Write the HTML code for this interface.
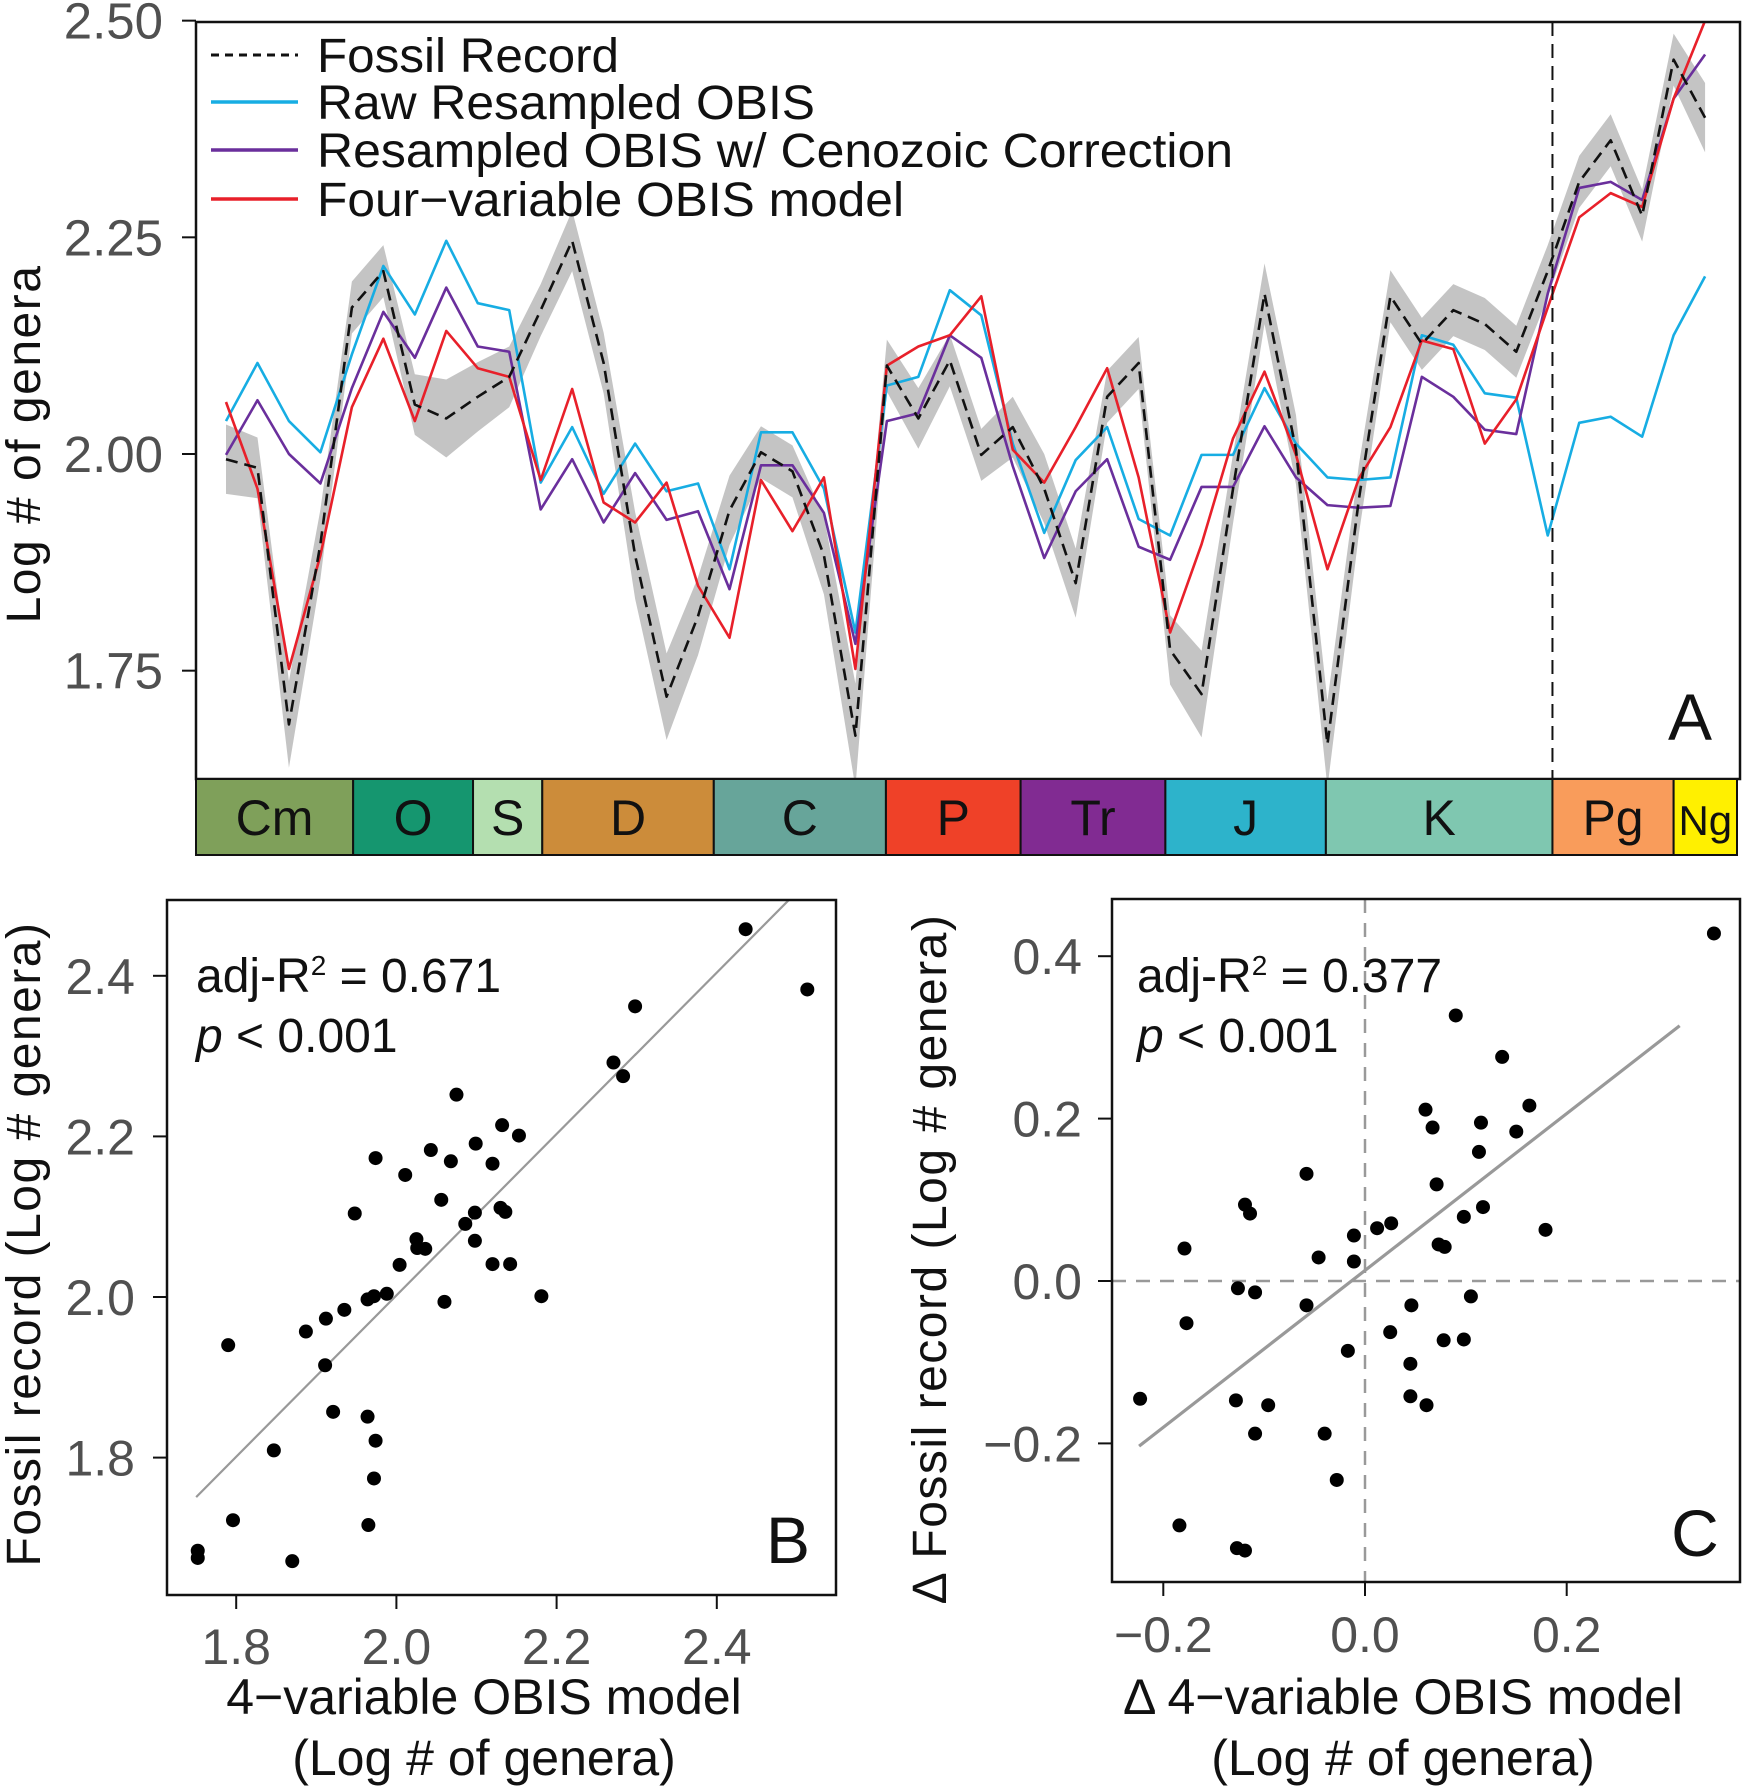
<!DOCTYPE html>
<html><head><meta charset="utf-8"><style>
html,body{margin:0;padding:0;background:#fff}
svg{display:block;font-family:"Liberation Sans",Arial,sans-serif}
</style></head><body>
<svg id="fig" width="1743" height="1786" viewBox="0 0 1743 1786"></svg>
<script>
// ---------- Panel A data ----------
const stageIndex = [0,1,2,3,4,5,6,7,8,9,10,11,12,13,14,15,16,17,18,19,20,21,22,23,24,25,26,27,28,29,30,31,32,33,34,35,36,37,38,39,40,41,42,43,44,45,46,47];
const fossil = [1.994,1.984,1.688,1.896,2.169,2.211,2.057,2.041,2.066,2.089,2.166,2.246,2.105,1.883,1.720,1.813,1.935,2.002,1.980,1.883,1.675,2.102,2.041,2.108,1.999,2.031,1.960,1.851,2.066,2.105,1.774,1.723,1.960,2.185,2.005,1.665,1.948,2.182,2.127,2.166,2.150,2.118,2.211,2.314,2.362,2.275,2.455,2.388];
const fossilErr = [0.04,0.035,0.05,0.04,0.03,0.03,0.035,0.045,0.04,0.035,0.03,0.035,0.035,0.05,0.05,0.045,0.04,0.03,0.03,0.045,0.06,0.03,0.035,0.03,0.03,0.035,0.04,0.04,0.03,0.03,0.04,0.05,0.04,0.035,0.04,0.05,0.04,0.03,0.03,0.03,0.03,0.03,0.03,0.03,0.03,0.03,0.03,0.04];
const rawObis = [2.038,2.105,2.038,2.002,2.115,2.217,2.161,2.246,2.174,2.166,1.967,2.031,1.954,2.012,1.957,1.966,1.867,2.025,2.025,1.960,1.794,2.079,2.089,2.189,2.160,2.012,1.909,1.993,2.031,1.925,1.906,1.999,1.999,2.076,2.012,1.973,1.970,1.973,2.137,2.126,2.070,2.065,1.906,2.036,2.043,2.020,2.137,2.205];
const cenoObis = [1.999,2.062,2.000,1.966,2.076,2.164,2.111,2.192,2.124,2.118,1.936,1.994,1.921,1.978,1.924,1.934,1.844,1.987,1.987,1.932,1.781,2.038,2.047,2.137,2.111,1.986,1.880,1.957,1.994,1.893,1.878,1.962,1.962,2.032,1.973,1.941,1.938,1.940,2.089,2.066,2.028,2.023,2.185,2.307,2.314,2.293,2.410,2.461];
const fourVar = [2.060,1.960,1.752,1.883,2.054,2.133,2.038,2.142,2.099,2.089,1.970,2.075,1.944,1.921,1.967,1.848,1.788,1.970,1.911,1.973,1.752,2.102,2.124,2.137,2.182,2.005,1.967,2.031,2.099,1.973,1.794,1.896,2.018,2.095,1.999,1.867,1.972,2.031,2.131,2.121,2.012,2.063,2.169,2.273,2.301,2.285,2.410,2.500];
const yTicksA = [1.75,2.00,2.25,2.50];
const yTickLabelsA = ["1.75","2.00","2.25","2.50"];
const periods = ["Cm","O","S","D","C","P","Tr","J","K","Pg","Ng"];
const periodEdges = [-0.9,4.04,7.85,10.05,15.5,20.97,25.25,29.85,34.95,42.15,46.0,47.5];
const periodColors = ["#7fa05a","#15966f","#b4dfb0","#cc8c3a","#67a59a","#ef4128","#812b92","#2db3cb","#7fc7b0","#f99c5b","#fff000"];
const cenozoicIndex = 42.15;
// ---------- Panel B data ----------
const bModel = [2.436,2.513,2.298,2.271,2.283,2.075,1.974,2.043,2.068,2.011,2.132,2.153,2.099,2.120,2.056,1.948,2.130,2.136,2.098,2.086,2.098,2.025,2.026,2.036,2.004,2.120,2.142,2.181,1.988,1.972,1.964,2.060,1.935,1.912,1.887,1.790,1.911,1.921,1.964,1.974,1.847,1.972,1.965,1.796,1.752,1.752,1.870];
const bFossil = [2.458,2.383,2.362,2.292,2.275,2.252,2.173,2.183,2.169,2.152,2.214,2.201,2.191,2.166,2.121,2.104,2.111,2.106,2.105,2.091,2.070,2.072,2.061,2.060,2.040,2.041,2.041,2.001,2.004,2.001,1.997,1.994,1.984,1.973,1.957,1.940,1.915,1.857,1.851,1.821,1.809,1.774,1.716,1.722,1.684,1.675,1.671];
const bFit = [1.005,-0.008];
const bXTicks = [1.8,2.0,2.2,2.4];
const bXTickLabels = ["1.8","2.0","2.2","2.4"];
const bYTicks = [1.8,2.0,2.2,2.4];
const bYTickLabels = ["1.8","2.0","2.2","2.4"];
// ---------- Panel C data ----------
const cModel = [0.346,0.090,0.136,0.163,0.060,0.067,0.115,0.150,0.113,-0.058,0.071,-0.119,0.117,-0.114,0.098,0.179,0.026,0.012,-0.011,-0.179,0.073,0.079,-0.046,-0.011,-0.126,-0.109,0.105,-0.058,0.046,-0.177,0.025,0.078,0.098,-0.017,0.045,-0.223,0.045,0.061,-0.128,-0.096,-0.109,-0.040,-0.028,-0.184,-0.127,-0.119];
const cFossil = [0.428,0.327,0.276,0.216,0.211,0.189,0.195,0.184,0.159,0.132,0.119,0.094,0.091,0.083,0.079,0.063,0.071,0.065,0.056,0.040,0.045,0.042,0.029,0.024,-0.009,-0.014,-0.019,-0.030,-0.030,-0.052,-0.063,-0.073,-0.072,-0.086,-0.102,-0.145,-0.142,-0.153,-0.147,-0.153,-0.188,-0.188,-0.245,-0.301,-0.329,-0.332];
const cFit = [0.966,0.013];
const cXTicks = [-0.2,0.0,0.2];
const cXTickLabels = ["\u22120.2","0.0","0.2"];
const cYTicks = [-0.2,0.0,0.2,0.4];
const cYTickLabels = ["\u22120.2","0.0","0.2","0.4"];

const NS = "http://www.w3.org/2000/svg";
const svg = document.getElementById('fig');
function mk(tag, attrs, parent){
  const e = document.createElementNS(NS, tag);
  for (const k in attrs) e.setAttribute(k, attrs[k]);
  (parent||svg).appendChild(e);
  return e;
}
function txt(s, attrs, parent){ const e = mk('text', attrs, parent); e.textContent = s; return e; }

// ===== Panel A =====
const A = {l:196, r:1740, t:22, b:779};
const axA = i => 226 + i*31.47;
const ayA = v => 454 - (v-2.0)*866.7;
const gA = mk('g',{});


let up = stageIndex.map(i=>axA(i)+','+ayA(fossil[i]+fossilErr[i]));
let dn = stageIndex.slice().reverse().map(i=>axA(i)+','+ayA(fossil[i]-fossilErr[i]));
const clipA = mk('clipPath',{id:'clipA'}, gA);
mk('rect',{x:A.l,y:A.t,width:A.r-A.l,height:A.b-A.t}, clipA);
const band = mk('polygon',{points:up.concat(dn).join(' '),fill:'#c4c4c4','clip-path':'url(#clipA)'}, gA);


function series(arr, color, w, dash, name){
  const p = mk('polyline',{points:stageIndex.map(i=>axA(i)+','+ayA(arr[i])).join(' '),fill:'none',stroke:color,'stroke-width':w,'stroke-dasharray':dash||'none','clip-path':'url(#clipA)','stroke-linejoin':'round'}, gA);
  
  
}
series(rawObis,'#17ade3',2.6,null,'raw-resampled-obis-line');
series(cenoObis,'#6a2f9c',2.6,null,'cenozoic-corrected-obis-line');
series(fourVar,'#e8202a',2.6,null,'four-variable-model-line');
series(fossil,'#111',2.6,'12,7','fossil-record-line');
const czx = axA(cenozoicIndex);
const cz = mk('line',{x1:czx,x2:czx,y1:A.t,y2:A.b,stroke:'#111','stroke-width':2,'stroke-dasharray':'14,8'}, gA);


const boxA = mk('rect',{x:A.l,y:A.t,width:A.r-A.l,height:A.b-A.t,fill:'none',stroke:'#111','stroke-width':2.5}, gA);


yTicksA.forEach((v,k)=>{
  const y = ayA(v);
  const t = mk('line',{x1:A.l-14,x2:A.l,y1:y,y2:y,stroke:'#111','stroke-width':2}, gA);
  
  
  const l = txt(yTickLabelsA[k],{x:A.l-33,y:y+18,'text-anchor':'end','font-size':51,fill:'#505050'}, gA);
  
  
});
const yTitleA = txt('Log # of genera',{x:0,y:0,'font-size':48,'text-anchor':'middle',transform:'translate(40,444) rotate(-90)',fill:'#111','letter-spacing':'1.5'}, gA);


periods.forEach((p,k)=>{
  const x0 = k===0 ? A.l : (axA(periodEdges[k]));
  const x1 = k===periods.length-1 ? 1737 : axA(periodEdges[k+1]);
  const r = mk('rect',{x:x0,y:779,width:x1-x0,height:76,fill:periodColors[k],stroke:'#111','stroke-width':2}, gA);
  
  
  const t = txt(p,{x:(x0+x1)/2,y:835,'text-anchor':'middle','font-size':p==='Ng'?42:50,fill:'#111'}, gA);
  
  
});
const labA = txt('A',{x:1690,y:740,'text-anchor':'middle','font-size':66,fill:'#111'}, gA);


const legItems = [['Fossil Record','#111','8,6',302],['Raw Resampled OBIS','#17ade3',null,498],['Resampled OBIS w/ Cenozoic Correction','#6a2f9c',null,916],['Four\u2212variable OBIS model','#e8202a',null,587]];
const legYs = [55,102,150,199];
legItems.forEach((it,k)=>{
  const ln = mk('line',{x1:211,x2:298,y1:legYs[k],y2:legYs[k],stroke:it[1],'stroke-width':it[2]?3:3.5,'stroke-dasharray':it[2]||'none'}, gA);
  
  
  const t = txt(it[0],{x:317,y:legYs[k]+17,'font-size':48,fill:'#111',textLength:it[3],lengthAdjust:'spacingAndGlyphs'}, gA);
  
  
});

// ===== scatter panel builder =====
function scatter(cfg){
  const g = mk('g',{});
  
  
  const {l,r,t,b} = cfg.box;
  const cp = mk('clipPath',{id:cfg.name+'-clip'}, g);
  mk('rect',{x:l,y:t,width:r-l,height:b-t}, cp);
  if (cfg.zeroLines){
    const zx = mk('line',{x1:cfg.sx(0),x2:cfg.sx(0),y1:t,y2:b,stroke:'#999','stroke-width':2.5,'stroke-dasharray':'14,10'}, g);
    
    
    const zy = mk('line',{x1:l,x2:r,y1:cfg.sy(0),y2:cfg.sy(0),stroke:'#999','stroke-width':2.5,'stroke-dasharray':'14,10'}, g);
    
    
  }
  const fl = mk('line',{x1:cfg.sx(cfg.fitX[0]),y1:cfg.sy(cfg.fit[0]*cfg.fitX[0]+cfg.fit[1]),x2:cfg.sx(cfg.fitX[1]),y2:cfg.sy(cfg.fit[0]*cfg.fitX[1]+cfg.fit[1]),stroke:'#999','stroke-width':cfg.fitW,'clip-path':'url(#'+cfg.name+'-clip)'}, g);
  
  
  cfg.xs.forEach((xv,i)=>{
    const c = mk('circle',{cx:cfg.sx(xv),cy:cfg.sy(cfg.ys[i]),r:7,fill:'#000'}, g);
    
    
  });
  const fr = mk('rect',{x:l,y:t,width:r-l,height:b-t,fill:'none',stroke:'#111','stroke-width':2.5}, g);
  
  
  cfg.xTicks.forEach((v,k)=>{
    const x = cfg.sx(v);
    const tk = mk('line',{x1:x,x2:x,y1:b,y2:b+14,stroke:'#111','stroke-width':2}, g);
    
    
    const lb = txt(cfg.xTickLabels[k],{x:x,y:cfg.xLabY,'text-anchor':'middle','font-size':50,fill:'#505050'}, g);
    
    
  });
  cfg.yTicks.forEach((v,k)=>{
    const y = cfg.sy(v);
    const tk = mk('line',{x1:l-14,x2:l,y1:y,y2:y,stroke:'#111','stroke-width':2}, g);
    
    
    const lb = txt(cfg.yTickLabels[k],{x:l-cfg.yLabGap,y:y+18,'text-anchor':'end','font-size':50,fill:'#505050'}, g);
    
    
  });
  const r2 = mk('text',{x:cfg.statX,y:cfg.statY,'font-size':48,fill:'#111'}, g);
  
  
  r2.innerHTML = 'adj-R<tspan dy="-17" font-size="28">2</tspan><tspan dy="17"> = '+cfg.r2+'</tspan>';
  const pv = mk('text',{x:cfg.statX,y:cfg.statY+60,'font-size':48,fill:'#111'}, g);
  
  
  pv.innerHTML = '<tspan font-style="italic">p</tspan> &lt; 0.001';
  const xt1 = txt(cfg.xTitle[0],{x:cfg.xTitleX,y:1714,'text-anchor':'middle','font-size':50,fill:'#111'}, g);
  
  
  const xt2 = txt(cfg.xTitle[1],{x:cfg.xTitleX,y:1775,'text-anchor':'middle','font-size':50,fill:'#111'}, g);
  
  
  const yt = txt(cfg.yTitle,{x:0,y:0,'text-anchor':'middle','font-size':48,fill:'#111','letter-spacing':'1.5',transform:'translate('+cfg.yTitleX+','+cfg.yTitleY+') rotate(-90)'}, g);
  
  
  const pl = txt(cfg.label,{x:cfg.labX,y:cfg.labY,'text-anchor':'middle','font-size':66,fill:'#111'}, g);
  
  
}
scatter({name:'panel-b', box:{l:167,r:836,t:900,b:1595},
  sx:v=>396.4+(v-2.0)*801, sy:v=>1297-(v-2.0)*803,
  xs:bModel, ys:bFossil, fit:bFit, fitX:[1.75,2.6], fitW:2.2, zeroLines:false,
  xTicks:bXTicks, xTickLabels:bXTickLabels, yTicks:bYTicks, yTickLabels:bYTickLabels, xLabY:1664, yLabGap:32,
  statX:196, statY:992, r2:'0.671', xTitle:['4\u2212variable OBIS model','(Log # of genera)'], xTitleX:484,
  yTitle:'Fossil record (Log # genera)', yTitleX:40, yTitleY:1244, label:'B', labX:788, labY:1563});
scatter({name:'panel-c', box:{l:1112,r:1740,t:899,b:1582},
  sx:v=>1365+v*1008.5, sy:v=>1281-v*812,
  xs:cModel, ys:cFossil, fit:cFit, fitX:[-0.224,0.312], fitW:3.2, zeroLines:true,
  xTicks:cXTicks, xTickLabels:cXTickLabels, yTicks:cYTicks, yTickLabels:cYTickLabels, xLabY:1652, yLabGap:30,
  statX:1137, statY:992, r2:'0.377', xTitle:['\u0394 4\u2212variable OBIS model','(Log # of genera)'], xTitleX:1403,
  yTitle:'\u0394 Fossil record (Log #  genera)', yTitleX:946, yTitleY:1259, label:'C', labX:1695, labY:1556});
</script>
</body></html>
